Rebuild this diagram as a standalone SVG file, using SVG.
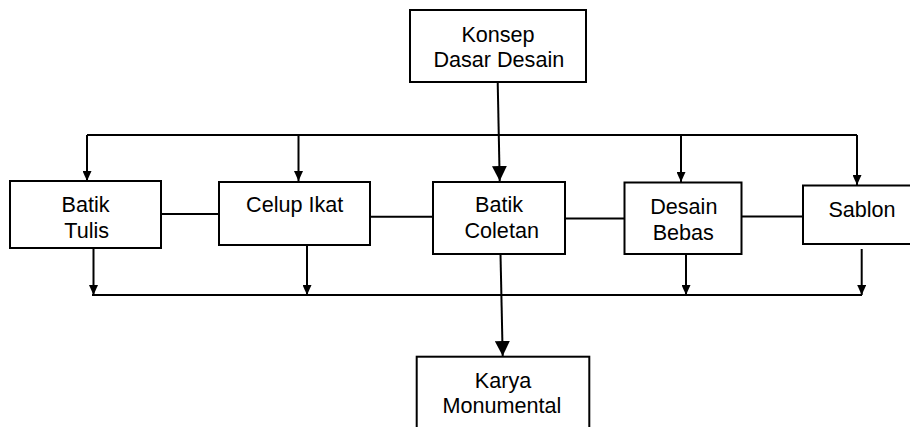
<svg xmlns="http://www.w3.org/2000/svg" width="910" height="427" viewBox="0 0 910 427">
<style>
.box{fill:#fff;stroke:#000;stroke-width:2}
.lbl{font-family:"Liberation Sans",Arial,sans-serif;font-size:21.6px;fill:#000;text-anchor:middle}
.ln{fill:none;stroke:#000;stroke-width:2}
</style>
<defs>
<marker id="sm" markerUnits="userSpaceOnUse" markerWidth="10" markerHeight="9" refX="10" refY="4.5" orient="auto" viewBox="0 0 10 9"><path d="M0,0 L10,4.5 L0,9 z" fill="#000"/></marker>
<marker id="lg" markerUnits="userSpaceOnUse" markerWidth="15" markerHeight="15" refX="15" refY="7.5" orient="auto" viewBox="0 0 15 15"><path d="M0,0 L15,7.5 L0,15 z" fill="#000"/></marker>
</defs>
<rect width="910" height="427" fill="#fff"/>
<g id="connectors">
<line class="ln" x1="87" y1="135" x2="857" y2="135"/>
<line class="ln" x1="87" y1="135" x2="87" y2="181" marker-end="url(#sm)"/>
<line class="ln" x1="298.5" y1="135" x2="298.5" y2="181" marker-end="url(#sm)"/>
<line class="ln" x1="681" y1="135" x2="681" y2="182" marker-end="url(#sm)"/>
<line class="ln" x1="857" y1="135" x2="857" y2="185" marker-end="url(#sm)"/>
<line class="ln" x1="497.7" y1="82" x2="499.7" y2="181" marker-end="url(#lg)"/>
<line class="ln" x1="158" y1="214" x2="219" y2="214"/>
<line class="ln" x1="370" y1="216.7" x2="433" y2="216.7"/>
<line class="ln" x1="565" y1="218.5" x2="624" y2="218.5"/>
<line class="ln" x1="742" y1="216.5" x2="803" y2="216.5"/>
<line class="ln" x1="92" y1="295" x2="862" y2="295"/>
<line class="ln" x1="93.5" y1="248" x2="93.5" y2="295" marker-end="url(#sm)"/>
<line class="ln" x1="307" y1="245" x2="307" y2="295" marker-end="url(#sm)"/>
<line class="ln" x1="686" y1="254" x2="686" y2="295" marker-end="url(#sm)"/>
<line class="ln" x1="861.7" y1="249" x2="861.7" y2="295" marker-end="url(#sm)"/>
<line class="ln" x1="500.5" y1="254" x2="502.7" y2="356" marker-end="url(#lg)"/>
</g>
<g id="konsep"><rect class="box" x="410" y="10" width="176" height="72"/><text class="lbl" x="498" y="41.7">Konsep</text><text class="lbl" x="498.8" y="66.7">Dasar Desain</text></g>
<g id="batik-tulis"><rect class="box" x="10" y="181" width="151" height="67"/><text class="lbl" x="85.5" y="211.7">Batik</text><text class="lbl" x="86.7" y="237.7">Tulis</text></g>
<g id="celup-ikat"><rect class="box" x="219" y="182" width="151" height="63"/><text class="lbl" x="294.7" y="211.7">Celup Ikat</text></g>
<g id="batik-coletan"><rect class="box" x="433" y="182" width="132" height="72"/><text class="lbl" x="499" y="211.5">Batik</text><text class="lbl" x="501.7" y="238">Coletan</text></g>
<g id="desain-bebas"><rect class="box" x="624.5" y="182.5" width="117" height="71.5"/><text class="lbl" x="683.8" y="214">Desain</text><text class="lbl" x="683.3" y="239.5">Bebas</text></g>
<g id="sablon"><rect class="box" x="803" y="185.5" width="120" height="58.5"/><text class="lbl" x="862" y="216.7">Sablon</text></g>
<g id="karya"><rect class="box" x="416.7" y="356.7" width="172.6" height="90"/><text class="lbl" x="503" y="388">Karya</text><text class="lbl" x="502" y="413">Monumental</text></g>
</svg>
